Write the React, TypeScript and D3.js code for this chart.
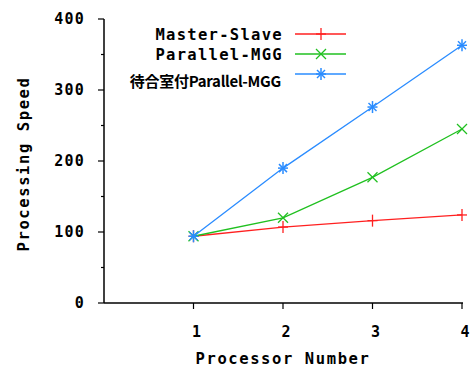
import React from "react";
import * as d3 from "d3";

const processors = [1, 2, 3, 4];
const masterSlave = [94, 107, 116, 124];
const parallelMGG = [94, 120, 177, 245];
const waitingParallelMGG = [94, 190, 276, 363];
const seriesNames = ["Master-Slave", "Parallel-MGG", "待合室付Parallel-MGG"];
const seriesColors = ["#ff2020", "#20c020", "#2a8cff"];
const yTicks = [0, 100, 200, 300, 400];
const yMinorTicks = [50, 150, 250, 350];

const W = 475, H = 367;
const x = d3.scaleLinear().domain([0, 4]).range([104, 462]);
const y = d3.scaleLinear().domain([0, 400]).range([303, 19]);

const mono = "'DejaVu Sans Mono', monospace";

function Marker({ kind, cx, cy, color }: { kind: number; cx: number; cy: number; color: string }) {
  const s = 5;
  if (kind === 0) {
    return (
      <g stroke={color} strokeWidth={1.3}>
        <line x1={cx - s} y1={cy} x2={cx + s} y2={cy} />
        <line x1={cx} y1={cy - s - 1} x2={cx} y2={cy + s + 1} />
      </g>
    );
  }
  if (kind === 1) {
    return (
      <g stroke={color} strokeWidth={1.3}>
        <line x1={cx - s} y1={cy - s} x2={cx + s} y2={cy + s} />
        <line x1={cx - s} y1={cy + s} x2={cx + s} y2={cy - s} />
      </g>
    );
  }
  return (
    <g stroke={color} strokeWidth={1.5}>
      <line x1={cx - s} y1={cy} x2={cx + s} y2={cy} />
      <line x1={cx} y1={cy - s - 1} x2={cx} y2={cy + s + 1} />
      <line x1={cx - s + 1} y1={cy - s + 1} x2={cx + s - 1} y2={cy + s - 1} />
      <line x1={cx - s + 1} y1={cy + s - 1} x2={cx + s - 1} y2={cy - s + 1} />
    </g>
  );
}

export default function App() {
  const series = [masterSlave, parallelMGG, waitingParallelMGG];
  const line = d3.line<number>().x((_, i) => x(processors[i])).y((d) => y(d));
  const legendY = [34, 54, 74];
  return (
    <svg width={W} height={H} style={{ position: "absolute", left: 0, top: 0, background: "#fff" }}>
      <line x1={x(0)} y1={y(0)} x2={x(4) + 1} y2={y(0)} stroke="#000" strokeWidth={1.5} />
      <line x1={x(0)} y1={y(0)} x2={x(0)} y2={y(400)} stroke="#000" strokeWidth={1.5} />
      {yTicks.map((t) => (
        <g key={t}>
          <line x1={x(0) - 6} x2={x(0)} y1={y(t)} y2={y(t)} stroke="#000" strokeWidth={1.2} />
          <text x={85} y={y(t)} dy="0.36em" textAnchor="end" fontFamily={mono} fontWeight="bold" fontSize={15} letterSpacing={1.2}>
            {t}
          </text>
        </g>
      ))}
      {yMinorTicks.map((t) => (
        <line key={t} x1={x(0) - 3} x2={x(0)} y1={y(t)} y2={y(t)} stroke="#000" strokeWidth={1.2} />
      ))}
      {processors.map((p) => (
        <g key={p}>
          <line x1={x(p)} x2={x(p)} y1={y(0)} y2={y(0) + 6} stroke="#000" strokeWidth={1.2} />
          <text x={x(p) + 3} y={337} textAnchor="middle" fontFamily={mono} fontWeight="bold" fontSize={15}>
            {p}
          </text>
        </g>
      ))}
      <text x={283} y={364} textAnchor="middle" fontFamily={mono} fontWeight="bold" fontSize={15.5} letterSpacing={1.6}>
        Processor Number
      </text>
      <text transform={`translate(29,164) rotate(-90)`} textAnchor="middle" fontFamily={mono} fontWeight="bold" fontSize={15.5} letterSpacing={1.6}>
        Processing Speed
      </text>
      {series.map((vals, si) => (
        <g key={si}>
          <path d={line(vals) || ""} fill="none" stroke={seriesColors[si]} strokeWidth={1.3} />
          {vals.map((v, i) => (
            <Marker key={i} kind={si} cx={x(processors[i])} cy={y(v)} color={seriesColors[si]} />
          ))}
        </g>
      ))}
      {seriesNames.map((name, si) => (
        <g key={name}>
          <text
            x={si === 2 ? 281 : 283}
            y={si === 2 ? 82 : legendY[si]}
            dy="0.36em"
            textAnchor="end"
            fontFamily={si === 2 ? "'Noto Sans CJK JP', 'Liberation Sans', sans-serif" : mono}
            fontWeight="bold"
            fontSize={si === 2 ? 15 : 15.5}
            letterSpacing={si === 2 ? -0.3 : 1.3}
          >
            {name}
          </text>
          <line x1={295} x2={346} y1={legendY[si]} y2={legendY[si]} stroke={seriesColors[si]} strokeWidth={1.3} />
          <Marker kind={si} cx={321} cy={legendY[si]} color={seriesColors[si]} />
        </g>
      ))}
    </svg>
  );
}
